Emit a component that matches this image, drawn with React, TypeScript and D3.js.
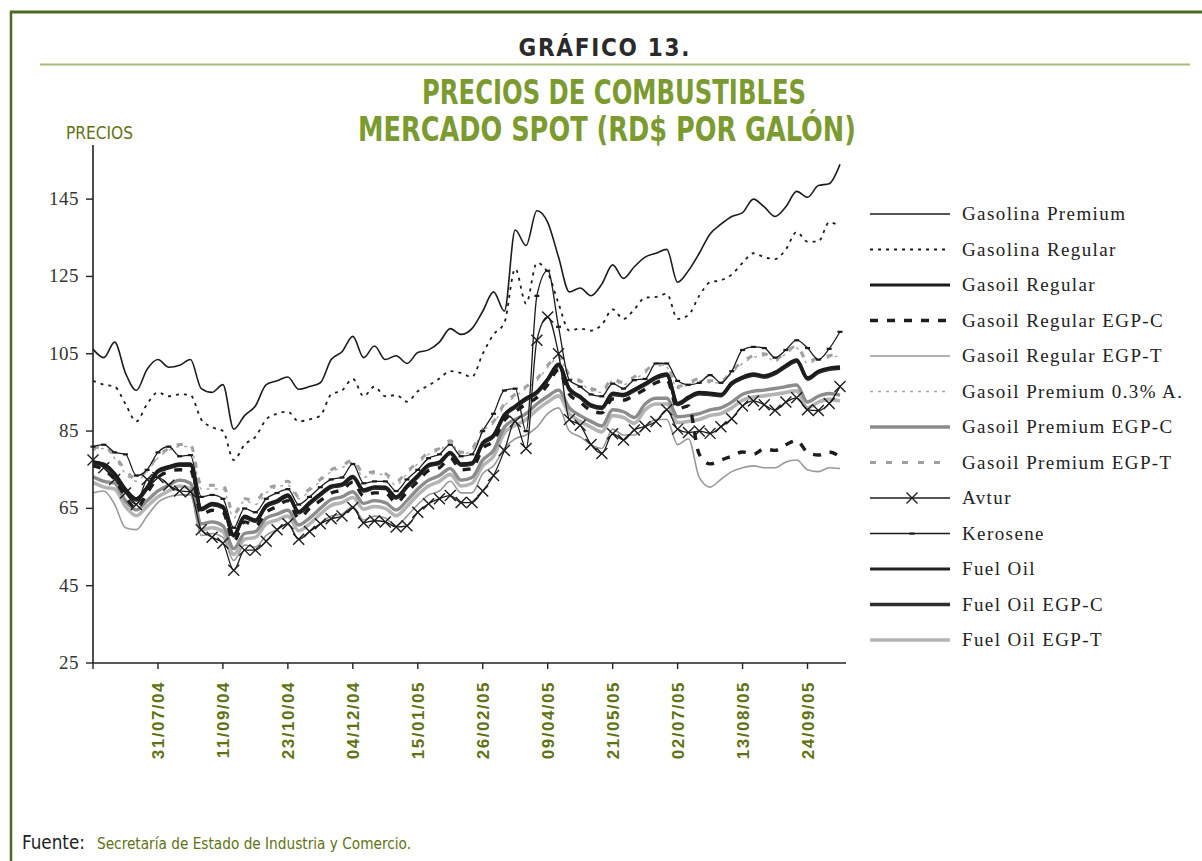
import React from 'react';
import * as d3 from 'd3';

// weekly observations, 19/06/04 .. 15/10/05
const startDate = new Date(2004, 5, 19);
const weeks = d3.range(70).map(i => d3.timeDay.offset(startDate, i * 7));

const tickLabels = ['31/07/04', '11/09/04', '23/10/04', '04/12/04', '15/01/05', '26/02/05', '09/04/05', '21/05/05', '02/07/05', '13/08/05', '24/09/05'];
const yTicks = [25, 45, 65, 85, 105, 125, 145];

const gasolinaPremium = [
  106.2, 104, 108, 100, 95.5, 101, 103.5, 101.5, 102, 103.5,
  96, 95, 97, 85.5, 89, 91.5, 97, 98, 99, 95.8,
  96.5, 97.5, 103.5, 105.5, 109.5, 104, 107, 103.5, 104.5, 102.5,
  105.3, 106, 108, 111.5, 110, 111.5, 116, 121, 116, 137,
  133, 142, 139, 130, 121, 122, 120, 123, 128, 124.5,
  127.5, 130, 131, 132, 123.5, 126.5, 131, 136, 138.5, 140.5,
  141.5, 145, 143, 140.5, 143, 147, 145.5, 148.5, 149, 154,
];
const gasolinaRegular = [
  98, 97, 96.5, 92, 87.5, 92, 95, 94, 94.5, 94.3,
  88, 86, 85, 77.5, 81.5, 83.5, 88, 89.5, 90, 87.5,
  88, 89, 94.5, 95.5, 98.5, 94, 96.5, 94, 94.3, 92.6,
  95.3, 96.8, 98.6, 100.5, 100, 99, 105, 110, 113, 127,
  118, 128.5, 126, 118, 111, 111.5, 111, 112.5, 116.5, 114,
  116.5, 119.5, 119.7, 120.5, 114, 115, 120, 123.5, 124, 125.5,
  128.5, 131, 130, 129.5, 132, 136.5, 134, 134, 139, 138,
];
const gasoilRegular = [
  77, 76.5, 74, 70, 67.5, 70.5, 74.8, 75.8, 76.5, 76.5,
  65, 66.3, 65.5, 58.2, 63, 62, 65.8, 67, 68.5, 64.2,
  66.5, 68.8, 70.8, 71.3, 73.3, 69.8, 70.6, 70.5, 68, 70.8,
  73.5, 76.3, 77, 79.5, 76.5, 76.8, 82, 84, 89.3, 91.5,
  93.5, 95.2, 98.5, 102.3, 96, 94, 91.8, 91.2, 94.8, 94.5,
  95.8, 97.3, 99, 99.8, 92.2, 93.8, 95, 94.8, 94.5, 97.5,
  99, 99.8, 99.3, 100.2, 102, 103.4, 98.8, 100.5, 101.3, 101.6,
];
const gasoilRegularEgpC = [
  76, 75, 72.5, 68, 65, 69, 73, 74.5, 75, 75,
  63.5, 64.5, 64, 56.5, 61.5, 60.5, 64, 65.5, 67, 62.5,
  65, 67, 69, 69.8, 71.8, 68.2, 69, 69, 66.5, 69.2,
  72, 74.8, 75.5, 78, 75, 75.3, 80.5, 82.5, 87.8, 90,
  92, 93.7, 97, 100.8, 94.5, 92.5, 90.3, 89.7, 93.3, 93,
  94.3, 95.8, 97.5, 98.3, 90.7, 91.5, 79, 76.5, 77.5, 78.5,
  79.6, 79, 80.4, 80, 81.5, 82.5, 79.5, 78.8, 79.6, 78.4,
];
const gasoilRegularEgpT = [
  69, 69.5, 66, 60, 59.5, 63, 66.5, 68, 68.5, 68.5,
  58, 58.5, 57.5, 51.5, 55.5, 55, 58, 59.5, 61, 57,
  59, 61, 63, 63.5, 65.5, 62, 63, 62.5, 60.5, 63,
  66, 68.5, 69.5, 72, 69, 69, 74, 76, 80.5, 83,
  84, 86, 89.5, 91, 85, 83.5, 81.5, 80.5, 85.5, 84,
  84, 86, 88, 88, 81.5, 83, 73, 70.5, 72.5, 74.5,
  75.5, 76, 75.5, 75.5, 77, 77.5, 75, 74.5, 75.5, 75.3,
];
const gasoilPremium03 = [
  80, 80.5, 78, 74, 72, 74.5, 78, 80, 81, 81,
  70, 70, 70, 62.5, 67, 66, 69, 70.5, 71, 67.5,
  69.5, 72, 74.5, 75.5, 77, 73, 74, 73.5, 71, 74,
  76.5, 79, 80, 82, 79, 80, 85, 87, 91.5, 94,
  96, 98, 101.5, 104, 99, 97.5, 95.5, 95, 98, 97,
  98.5, 100, 102, 101.5, 96, 97, 98, 97.5, 97.5, 100,
  102.5, 104, 104.5, 103, 105, 106.5, 102.5, 103.5, 104, 104.5,
];
const gasoilPremiumEgpC = [
  73.2, 72, 71.5, 67, 64.6, 67, 69.5, 71, 72.3, 71.5,
  61, 61.5, 60.5, 54.6, 58.5, 59, 62.5, 63.5, 64.5, 60.7,
  62.5, 65, 67.3, 68, 69.3, 66.3, 67, 66.5, 64.6, 67,
  70, 72.3, 73.5, 75.3, 72.3, 73, 77.5, 80, 86, 88,
  89.5, 92, 94, 95.6, 91, 89, 87.5, 86.3, 90.5, 90,
  88.5, 92, 93.5, 93.5, 88.7, 89, 89.5, 90.5, 91, 92.5,
  94.5, 95.3, 95.6, 96, 96.5, 96.9, 92.5, 94, 94.7, 94.3,
];
const gasoilPremiumEgpT = [
  80.5, 81, 78.5, 75, 72.5, 75, 78.5, 80.5, 81.5, 81.5,
  71, 71, 71, 63.5, 67.5, 67, 70, 71, 72, 68,
  70, 72.5, 75, 76, 77.5, 74, 74.5, 74, 72, 74.5,
  77, 79.5, 80.5, 82.5, 79.5, 80.5, 85.5, 87.5, 92, 94.5,
  96.5, 98.5, 102, 104.5, 99.5, 98, 96, 95.5, 98.5, 97.5,
  99, 100.5, 102.5, 102, 96.5, 97.5, 98.5, 98, 98, 100.5,
  103, 104.5, 105, 103.5, 105.5, 107, 103, 104, 104.5, 105,
];
const avtur = [
  77.5, 75.5, 72.5, 69, 66, 72.5, 73, 71, 69.5, 69.3,
  59.5, 57.5, 56, 49, 54.2, 54.2, 56.5, 59.5, 61, 57,
  59, 61, 62.3, 63, 65.2, 61.3, 61.8, 61.5, 60.2, 60.5,
  64, 66.2, 67.5, 68.3, 66.5, 66.5, 69.5, 73.5, 80, 87.5,
  80.5, 108.5, 114.5, 105, 88, 86.5, 81.5, 79.2, 84.3, 82.7,
  85.3, 86.2, 87.5, 90.5, 85.5, 84.6, 85, 84.4, 86.1, 88.2,
  91.5, 92.8, 91.8, 90.4, 92.5, 93.6, 90.5, 90.3, 92.1, 96.5,
];
const kerosene = [
  81, 81.5, 79.5, 79, 73.5, 75, 79.5, 81, 78.5, 78.8,
  68, 68.5, 67.5, 60, 65, 64, 67.5, 69, 70, 66,
  68, 70.5, 72.5, 73, 76.5, 71.5, 72, 72, 69.5, 72.5,
  75, 78, 79, 81.5, 78.5, 79, 85, 89.5, 95.5, 96,
  85, 120, 126.5, 112, 98.2, 96.5, 94.5, 94, 97.3, 96,
  98.2, 98.5, 102.5, 102.5, 98, 97, 97.5, 99.5, 97.5, 100.5,
  106, 106.8, 106.5, 104, 106, 108.5, 106.5, 103.5, 106.3, 110.7,
];
const fuelOil = [
  76.6, 76.1, 73.6, 69.6, 67.1, 70.1, 74.4, 75.4, 76.1, 76.1,
  64.6, 65.9, 65.1, 57.8, 62.6, 61.6, 65.4, 66.6, 68.1, 63.8,
  66.1, 68.4, 70.4, 70.9, 72.9, 69.4, 70.2, 70.1, 67.6, 70.4,
  73.1, 75.9, 76.6, 79.1, 76.1, 76.4, 81.6, 83.6, 88.9, 91.1,
  93.1, 94.8, 98.1, 101.9, 95.6, 93.6, 91.4, 90.8, 94.4, 94.1,
  95.4, 96.9, 98.6, 99.4, 91.8, 93.4, 94.6, 94.4, 94.1, 97.1,
  98.6, 99.4, 98.9, 99.8, 101.6, 103, 98.4, 100.1, 100.9, 101.2,
];
const fuelOilEgpC = [
  76.8, 76.3, 73.8, 69.8, 67.3, 70.3, 74.6, 75.6, 76.3, 76.3,
  64.8, 66.1, 65.3, 58, 62.8, 61.8, 65.6, 66.8, 68.3, 64,
  66.3, 68.6, 70.6, 71.1, 73.1, 69.6, 70.4, 70.3, 67.8, 70.6,
  73.3, 76.1, 76.8, 79.3, 76.3, 76.6, 81.8, 83.8, 89.1, 91.3,
  93.3, 95, 98.3, 102.1, 95.8, 93.8, 91.6, 91, 94.6, 94.3,
  95.6, 97.1, 98.8, 99.6, 92, 93.6, 94.8, 94.6, 94.3, 97.3,
  98.8, 99.6, 99.1, 100, 101.8, 103.2, 98.6, 100.3, 101.1, 101.4,
];
const fuelOilEgpT = [
  71.7, 70.5, 70, 65.5, 63.1, 65.5, 68, 69.5, 70.8, 70,
  59.5, 60, 59, 53.1, 57, 57.5, 61, 62, 63, 59.2,
  61, 63.5, 65.8, 66.5, 67.8, 64.8, 65.5, 65, 63.1, 65.5,
  68.5, 70.8, 72, 73.8, 70.8, 71.5, 76, 78.5, 84.5, 86.5,
  88, 90.5, 92.5, 94.1, 89.5, 87.5, 86, 84.8, 89, 88.5,
  87, 90.5, 92, 92, 87.2, 87.5, 88, 89, 89.5, 91,
  93, 93.8, 94.1, 94.5, 95, 95.4, 91, 92.5, 93.2, 92.8,
];

type Serie = {
  name: string;
  values: number[];
  stroke: string;
  width: number;
  dash?: string;
  marker?: 'x' | 'dash';
};

const series: Serie[] = [
  { name: 'Gasolina Premium', values: gasolinaPremium, stroke: '#1c1c1c', width: 1.6 },
  { name: 'Gasolina Regular', values: gasolinaRegular, stroke: '#1c1c1c', width: 1.8, dash: '3,5' },
  { name: 'Gasoil Regular', values: gasoilRegular, stroke: '#1c1c1c', width: 3.2 },
  { name: 'Gasoil Regular EGP-C', values: gasoilRegularEgpC, stroke: '#1c1c1c', width: 3.4, dash: '8,9' },
  { name: 'Gasoil Regular EGP-T', values: gasoilRegularEgpT, stroke: '#999', width: 1.6 },
  { name: 'Gasoil Premium 0.3% A.', values: gasoilPremium03, stroke: '#a6a6a6', width: 1.4, dash: '3,5' },
  { name: 'Gasoil Premium EGP-C', values: gasoilPremiumEgpC, stroke: '#8c8c8c', width: 3.4 },
  { name: 'Gasoil Premium EGP-T', values: gasoilPremiumEgpT, stroke: '#a0a0a0', width: 3, dash: '6,10' },
  { name: 'Avtur', values: avtur, stroke: '#1c1c1c', width: 1.3, marker: 'x' },
  { name: 'Kerosene', values: kerosene, stroke: '#1c1c1c', width: 1.3, marker: 'dash' },
  { name: 'Fuel Oil', values: fuelOil, stroke: '#222', width: 3 },
  { name: 'Fuel Oil EGP-C', values: fuelOilEgpC, stroke: '#2e2e2e', width: 3.4 },
  { name: 'Fuel Oil EGP-T', values: fuelOilEgpT, stroke: '#b4b4b4', width: 3.6 },
];

// thick bands first, thin lines and markers on top
const drawOrder = [12, 6, 4, 10, 11, 2, 3, 7, 5, 8, 9, 1, 0];

const W = 1202;
const H = 861;
const plot = { left: 93, right: 840, top: 145, bottom: 663 };

const green = '#7b9a2f';
const olive = '#5f7214';
const narrow = "'Liberation Sans Narrow', 'Arial Narrow', 'DejaVu Sans Condensed', 'Liberation Sans', sans-serif";
const serif = "'Liberation Serif', 'Times New Roman', serif";

const x = d3.scaleTime().domain([weeks[0], weeks[weeks.length - 1]]).range([plot.left, plot.right]);
const y = d3.scaleLinear().domain([25, 159]).range([plot.bottom, plot.top]);

const lineGen = d3.line<number>()
  .x((_, i) => x(weeks[i]))
  .y(d => y(d))
  .curve(d3.curveMonotoneX);

const Marker = ({ kind, cx, cy }: { kind: 'x' | 'dash'; cx: number; cy: number }) => {
  if (kind === 'x') {
    const r = 5.5;
    return (
      <path d={`M${cx - r},${cy - r}L${cx + r},${cy + r}M${cx - r},${cy + r}L${cx + r},${cy - r}`}
        stroke="#1c1c1c" strokeWidth={1.4} fill="none" />
    );
  }
  return <rect x={cx - 2.5} y={cy - 1} width={5} height={2.2} fill="#1c1c1c" />;
};

export default function App() {
  const tickIdx = d3.range(0, weeks.length, 6);
  const legendTop = 214;
  const legendStep = 35.5;

  return (
    <div style={{ position: 'absolute', left: 0, top: 0, background: '#fff' }}>
      <svg width={W} height={H} viewBox={`0 0 ${W} ${H}`} style={{ display: 'block' }}>
        <rect width={W} height={H} fill="#fff" />
        {/* frame */}
        <line x1={10} y1={12} x2={W} y2={12} stroke="#4b6a22" strokeWidth={3} />
        <line x1={11} y1={11} x2={11} y2={H} stroke="#4b6a22" strokeWidth={2.5} />

        <text x={604} y={56} textAnchor="middle" fontFamily={narrow} fontSize={24} fontWeight={700}
          fill="#2a2a2a" textLength={171} lengthAdjust="spacing">GRÁFICO 13.</text>
        <line x1={40} y1={64.5} x2={1190} y2={64.5} stroke="#a4bb7c" strokeWidth={2} />

        <text x={614} y={104} textAnchor="middle" fontFamily={narrow} fontSize={33} fontWeight={700}
          fill={green} textLength={384} lengthAdjust="spacingAndGlyphs">PRECIOS DE COMBUSTIBLES</text>
        <text x={607} y={141} textAnchor="middle" fontFamily={narrow} fontSize={33} fontWeight={700}
          fill={green} textLength={498} lengthAdjust="spacingAndGlyphs">MERCADO SPOT (RD$ POR GALÓN)</text>

        <text x={66} y={139} fontFamily={narrow} fontSize={18} fontWeight={400} fill={olive}
          textLength={67} lengthAdjust="spacingAndGlyphs">PRECIOS</text>

        {/* series */}
        <g>
          {drawOrder.map(k => {
            const s = series[k];
            return (
              <g key={s.name}>
                <path d={lineGen(s.values) || ''} fill="none" stroke={s.stroke} strokeWidth={s.width}
                  strokeDasharray={s.dash} strokeLinejoin="round" />
                {s.marker && s.values.map((v, i) => (
                  <Marker key={i} kind={s.marker!} cx={x(weeks[i])} cy={y(v)} />
                ))}
              </g>
            );
          })}
        </g>

        {/* y axis */}
        <line x1={plot.left} y1={plot.top} x2={plot.left} y2={plot.bottom} stroke="#222" strokeWidth={1.6} />
        {yTicks.map(t => (
          <g key={t}>
            <line x1={plot.left - 7} y1={y(t)} x2={plot.left} y2={y(t)} stroke="#222" strokeWidth={1.4} />
            <text x={79} y={y(t) + 6} textAnchor="end" fontFamily={serif} fontSize={19}
              letterSpacing={0.5} fill="#333">{t}</text>
          </g>
        ))}

        {/* x axis */}
        <line x1={plot.left} y1={plot.bottom} x2={846} y2={plot.bottom} stroke="#222" strokeWidth={1.6} />
        {tickIdx.map((i, k) => {
          const tx = x(weeks[i]);
          return (
            <g key={i}>
              <line x1={tx} y1={plot.bottom} x2={tx} y2={plot.bottom + 6} stroke="#222" strokeWidth={1.4} />
              {k > 0 && (
                <text transform={`translate(${tx + 6},681) rotate(-90)`} textAnchor="end"
                  fontFamily="'Liberation Sans', Arial, sans-serif" fontWeight={700} fontSize={17}
                  letterSpacing={1.5} fill={olive}>{tickLabels[k - 1]}</text>
              )}
            </g>
          );
        })}

        {/* legend */}
        {series.map((s, i) => {
          const ly = legendTop + i * legendStep;
          return (
            <g key={s.name}>
              <line x1={870} y1={ly} x2={950} y2={ly} stroke={s.stroke} strokeWidth={s.width}
                strokeDasharray={s.dash} />
              {s.marker && <Marker kind={s.marker} cx={912} cy={ly} />}
              <text x={962} y={ly + 6} fontFamily={serif} fontSize={19} letterSpacing={1.4}
                fill="#222">{s.name}</text>
            </g>
          );
        })}

        <text x={22} y={849} fontFamily={narrow} fontSize={19} fill="#1e1e1e"
          textLength={63} lengthAdjust="spacingAndGlyphs">Fuente:</text>
        <text x={97} y={849} fontFamily={narrow} fontSize={15} fill={olive}
          textLength={314} lengthAdjust="spacingAndGlyphs">Secretaría de Estado de Industria y Comercio.</text>
      </svg>
    </div>
  );
}
